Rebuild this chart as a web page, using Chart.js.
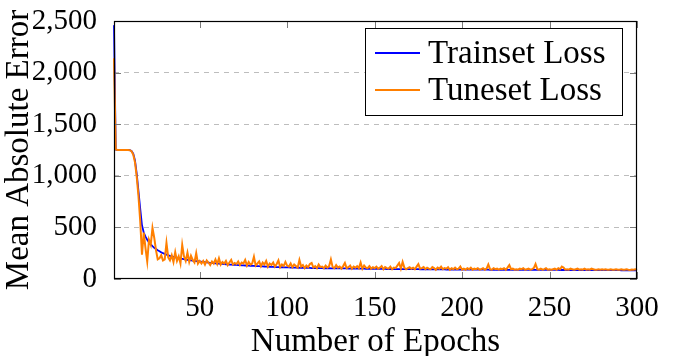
<!DOCTYPE html>
<html>
<head>
<meta charset="utf-8">
<script src="https://cdn.jsdelivr.net/npm/chart.js@4/dist/chart.umd.min.js"></script>
<style>
  html, body { margin: 0; padding: 0; background: #fff; }
  #wrap { width: 673px; height: 356px; position: relative; }
</style>
</head>
<body>
<div id="wrap"><canvas id="chart"></canvas></div>
<script>
const epochs = Array.from({ length: 300 }, (_, i) => i + 1);

const xTicks = [50, 100, 150, 200, 250, 300];
const yTicks = [0, 500, 1000, 1500, 2000, 2500];

const trainLoss = [
  2460, 1255, 1250, 1250, 1250, 1250, 1250, 1250, 1250, 1248,
  1240, 1215, 1150, 1020, 850, 680, 520, 450, 410, 380,
  355, 335, 318, 302, 290, 278, 268, 258, 250, 243,
  236, 230, 224, 219, 214, 210, 206, 202, 198, 195,
  192, 189, 186, 183, 181, 178, 176, 174, 172, 170,
  167, 165, 163, 161, 159, 157, 155, 153, 152, 150,
  149, 147, 146, 144, 143, 141, 140, 139, 138, 137,
  136, 135, 134, 133, 132, 131, 130, 129, 128, 128,
  127, 126, 125, 124, 123, 122, 121, 120, 119, 118,
  118, 117, 116, 116, 115, 114, 114, 113, 113, 112,
  112, 111, 111, 110, 110, 109, 109, 108, 108, 108,
  107, 107, 107, 106, 106, 106, 105, 105, 105, 105,
  104, 104, 104, 104, 103, 103, 103, 103, 103, 102,
  102, 102, 102, 102, 101, 101, 101, 101, 101, 100,
  100, 100, 100, 100, 99, 99, 99, 99, 99, 99,
  98, 98, 98, 98, 98, 98, 97, 97, 97, 97,
  97, 97, 96, 96, 96, 96, 96, 96, 95, 95,
  95, 95, 95, 95, 95, 94, 94, 94, 94, 94,
  94, 94, 93, 93, 93, 93, 93, 93, 93, 93,
  92, 92, 92, 92, 92, 92, 92, 91, 91, 91,
  91, 91, 91, 91, 91, 90, 90, 90, 90, 90,
  90, 90, 90, 90, 90, 89, 89, 89, 89, 89,
  89, 89, 89, 89, 89, 89, 89, 89, 89, 89,
  89, 89, 89, 89, 89, 88, 88, 88, 88, 88,
  88, 88, 88, 88, 88, 88, 88, 88, 88, 88,
  88, 88, 88, 88, 88, 87, 87, 87, 87, 87,
  87, 87, 87, 87, 87, 87, 87, 87, 87, 87,
  86, 86, 86, 86, 86, 86, 86, 86, 86, 86,
  86, 86, 86, 86, 86, 86, 86, 86, 86, 86,
  85, 85, 85, 85, 85, 84, 84, 84, 84, 84
];

const tuneLoss = [
  2140, 1255, 1250, 1250, 1250, 1250, 1250, 1250, 1250, 1248,
  1238, 1205, 1130, 990, 800, 560, 235, 450, 300, 170,
  380, 330, 495, 400, 280, 190, 200, 230, 180, 190,
  350, 210, 180, 230, 165, 260, 175, 220, 150, 330,
  220, 175, 255, 165, 225, 185, 160, 250, 150, 175,
  150, 175, 140, 180, 160, 135, 170, 150, 190, 145,
  200, 140, 165, 150, 175, 135, 160, 185, 140, 155,
  145, 170, 135, 160, 150, 185, 130, 165, 140, 150,
  215, 130, 150, 170, 125, 160, 140, 175, 120, 150,
  135, 160, 120, 145, 180, 115, 140, 125, 165, 130,
  120, 150, 115, 140, 125, 110, 185, 120, 135, 105,
  130, 115, 145, 155, 110, 125, 105, 140, 115, 120,
  105, 130, 110, 125, 190, 115, 105, 135, 110, 120,
  100, 125, 155, 105, 115, 130, 100, 120, 110, 125,
  105, 160, 100, 130, 110, 105, 125, 100, 115, 105,
  120, 100, 110, 125, 95, 115, 105, 100, 120, 95,
  110, 105, 130, 155, 100, 165, 110, 95, 105, 115,
  100, 110, 95, 120, 145, 100, 105, 115, 95, 110,
  100, 95, 115, 105, 90, 110, 100, 120, 95, 105,
  100, 115, 90, 105, 95, 110, 95, 100, 120, 90,
  100, 90, 105, 95, 110, 90, 100, 95, 105, 90,
  95, 105, 90, 100, 140, 95, 90, 105, 95, 100,
  90, 100, 95, 105, 90, 110, 135, 95, 100, 90,
  95, 90, 100, 95, 105, 90, 95, 100, 90, 95,
  105, 145, 95, 90, 100, 90, 95, 105, 90, 95,
  90, 95, 100, 90, 105, 95, 120, 110, 90, 95,
  90, 100, 95, 90, 95, 100, 90, 95, 90, 100,
  90, 95, 90, 100, 95, 90, 90, 95, 90, 95,
  90, 95, 90, 90, 95, 90, 90, 95, 90, 90,
  95, 90, 90, 95, 90, 88, 92, 90, 95, 88
];

const serif = "'Liberation Serif', 'Times New Roman', serif";

// pgfplots-like frame: inward ticks on all four sides, black box and legend inside
const framePlugin = {
  id: "frame",
  afterDatasetsDraw(chart) {
    const { ctx, chartArea: a, scales: { x, y } } = chart;
    ctx.save();
    ctx.strokeStyle = "#7a7a7a";
    ctx.lineWidth = 1;
    ctx.beginPath();
    yTicks.forEach(v => {
      const py = Math.round(y.getPixelForValue(v)) + 0.5;
      ctx.moveTo(a.left, py); ctx.lineTo(a.left + 7, py);
      ctx.moveTo(a.right - 7, py); ctx.lineTo(a.right, py);
    });
    xTicks.forEach(v => {
      const px = Math.round(x.getPixelForValue(v)) + 0.5;
      ctx.moveTo(px, a.bottom); ctx.lineTo(px, a.bottom - 7);
      ctx.moveTo(px, a.top); ctx.lineTo(px, a.top + 7);
    });
    ctx.stroke();

    ctx.strokeStyle = "#000";
    ctx.lineWidth = 1.2;
    ctx.strokeRect(a.left + 0.5, a.top + 0.5, a.width - 1, a.height - 1);

    // legend box
    const bw = 257, bh = 87;
    const bx = a.right - 15 - bw, by = a.top + 7;
    ctx.fillStyle = "#fff";
    ctx.fillRect(bx, by, bw, bh);
    ctx.lineWidth = 1;
    ctx.strokeRect(bx + 0.5, by + 0.5, bw, bh);
    ctx.font = "33px " + serif;
    ctx.textBaseline = "alphabetic";
    ctx.textAlign = "left";
    chart.data.datasets.forEach((ds, i) => {
      const ly = by + 25 + i * 37;
      ctx.strokeStyle = ds.borderColor;
      ctx.lineWidth = 1.8;
      ctx.beginPath();
      ctx.moveTo(bx + 10, ly);
      ctx.lineTo(bx + 55, ly);
      ctx.stroke();
      ctx.fillStyle = "#000";
      ctx.fillText(ds.label, bx + 63, ly + 10);
    });
    ctx.restore();
  }
};

new Chart(document.getElementById("chart"), {
  type: "line",
  data: {
    labels: epochs,
    datasets: [{
      label: "Trainset Loss",
      data: trainLoss,
      borderColor: "#0000ff",
      borderWidth: 1.8,
      pointRadius: 0,
      tension: 0,
      clip: 3,
      order: 1
    }, {
      label: "Tuneset Loss",
      data: tuneLoss,
      borderColor: "#ff7f00",
      borderWidth: 2,
      pointRadius: 0,
      tension: 0,
      clip: 3,
      order: 0
    }]
  },
  options: {
    responsive: true,
    maintainAspectRatio: false,
    animation: false,
    layout: {
      padding: { top: 21, right: 36, bottom: 0, left: 0 }
    },
    plugins: {
      legend: { display: false },
      tooltip: { enabled: false }
    },
    scales: {
      x: {
        type: "linear",
        min: 1,
        max: 300,
        afterBuildTicks: scale => {
          scale.ticks = xTicks.map(v => ({ value: v }));
        },
        afterFit: scale => {
          scale.height = 77;
          scale.paddingLeft = 0;
          scale.paddingRight = 0;
        },
        grid: { display: false },
        border: { display: false },
        ticks: {
          color: "#000",
          padding: 4,
          maxRotation: 0,
          font: { family: serif, size: 29 }
        },
        title: {
          display: true,
          text: "Number of Epochs",
          color: "#000",
          padding: { top: 0, bottom: 0 },
          font: { family: serif, size: 33, lineHeight: 0.85 }
        }
      },
      y: {
        min: 0,
        max: 2500,
        afterBuildTicks: scale => {
          scale.ticks = yTicks.map(v => ({ value: v }));
        },
        afterFit: scale => {
          scale.width = 114;
          scale.paddingTop = 0;
          scale.paddingBottom = 0;
        },
        grid: {
          drawTicks: false,
          color: ctx => (ctx.tick && (ctx.tick.value === 0 || ctx.tick.value === 2500)) ? "rgba(0,0,0,0)" : "#bdbdbd",
          lineWidth: 1
        },
        border: { display: false, dash: [5, 5] },
        ticks: {
          color: "#000",
          padding: 17,
          font: { family: serif, size: 29 },
          callback: v => v.toLocaleString("en-US")
        },
        title: {
          display: true,
          text: "Mean Absolute Error",
          color: "#000",
          padding: { top: 5, bottom: 0 },
          font: { family: serif, size: 33, lineHeight: 0.85 }
        }
      }
    }
  },
  plugins: [framePlugin]
});
</script>
</body>
</html>
